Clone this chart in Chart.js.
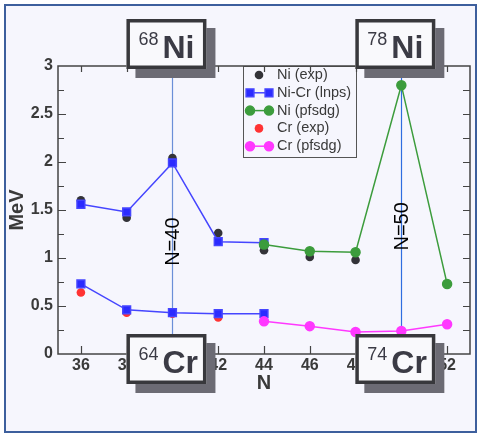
<!DOCTYPE html>
<html>
<head>
<meta charset="utf-8">
<script src="https://cdn.jsdelivr.net/npm/chart.js@4.4.1/dist/chart.umd.min.js"></script>
<style>
  html, body { margin: 0; padding: 0; background: #fff; }
  #wrap { width: 477px; height: 433px; }
</style>
</head>
<body>
<div id="wrap"><canvas id="chart" width="477" height="433"></canvas></div>
<script>
// tick labels on N axis
const nTicks = [36, 38, 40, 42, 44, 46, 48, 50, 52];

// experiment
const niExpN = [36, 38, 40, 42, 44, 46, 48];
const niExp = [1.60, 1.42, 2.04, 1.26, 1.08, 1.01, 0.98];
const crExpN = [36, 38, 40, 42];
const crExp = [0.64, 0.43, 0.42, 0.38];

// shell model (lnps)
const lnpsN = [36, 38, 40, 42, 44];
const niLnps = [1.56, 1.48, 1.99, 1.17, 1.16];
const crLnps = [0.73, 0.46, 0.43, 0.42, 0.42];

// pfsdg
const pfsdgN = [44, 46, 48, 50, 52];
const niPfsdg = [1.14, 1.07, 1.06, 2.80, 0.73];
const crPfsdg = [0.34, 0.29, 0.23, 0.24, 0.31];

// magic numbers + isotope boxes
const magicN = [40, 50];
const magicLabels = ['N=40', 'N=50'];
const niBoxes = [['68', 'Ni'], ['78', 'Ni']];
const crBoxes = [['64', 'Cr'], ['74', 'Cr']];

const FONT = '"Liberation Sans", Arial, sans-serif';
const TXT = '#3a3a3a';

const pts = (xs, ys) => xs.map((x, i) => ({ x: x, y: ys[i] }));

function isoBox(ctx, left, top, sup, sym) {
    const w = 80, h = 50;
    ctx.fillStyle = '#6c6b74';
    ctx.fillRect(left + 9, top + 9, w, h);
    ctx.fillStyle = '#f9f9fc';
    ctx.fillRect(left, top, w, h);
    ctx.lineWidth = 3.5;
    ctx.strokeStyle = '#38383c';
    ctx.strokeRect(left + 1.75, top + 1.75, w - 3.5, h - 3.5);
    ctx.fillStyle = '#3b3b45';
    ctx.textAlign = 'left';
    ctx.textBaseline = 'alphabetic';
    ctx.font = '18px ' + FONT;
    ctx.fillText(sup, left + 12, top + 25.5);
    const sw = ctx.measureText(sup).width;
    ctx.font = 'bold 32px ' + FONT;
    ctx.fillText(sym, left + 12 + sw + 4, top + 38.5);
}

const decor = {
    id: 'decor',
    beforeDraw(chart) {
        const ctx = chart.ctx;
        ctx.save();
        ctx.fillStyle = '#ffffff';
        ctx.fillRect(0, 0, chart.width, chart.height);
        ctx.fillStyle = '#f6f6fd';
        ctx.fillRect(5, 5, 471, 427);
        ctx.strokeStyle = '#3d5f9d';
        ctx.lineWidth = 2;
        ctx.strokeRect(5, 5, 471, 427);
        ctx.restore();
    },
    beforeDatasetsDraw(chart) {
        const ctx = chart.ctx, x = chart.scales.x, a = chart.chartArea;
        ctx.save();
        const cols = ['#6b8fd8', '#2f6de0'];
        magicN.forEach((n, i) => {
            const px = Math.round(x.getPixelForValue(n)) + 0.5;
            ctx.strokeStyle = cols[i];
            ctx.lineWidth = 1.2;
            ctx.beginPath();
            ctx.moveTo(px, a.top);
            ctx.lineTo(px, a.bottom);
            ctx.stroke();
        });
        ctx.restore();
    },
    afterDatasetsDraw(chart) {
        const ctx = chart.ctx, x = chart.scales.x, y = chart.scales.y;
        ctx.save();
        // N=40 / N=50 labels
        const labelAt = [1.17, 1.33];
        ctx.fillStyle = '#000';
        ctx.font = '20px ' + FONT;
        ctx.textAlign = 'center';
        ctx.textBaseline = 'middle';
        magicN.forEach((n, i) => {
            ctx.save();
            ctx.translate(x.getPixelForValue(n), y.getPixelForValue(labelAt[i]));
            ctx.rotate(-Math.PI / 2);
            ctx.fillText(magicLabels[i], 0, 1);
            ctx.restore();
        });

        // legend box
        const lx = 243, ly = chart.chartArea.top, lw = 113, lh = 91;
        ctx.fillStyle = '#f6f6fd';
        ctx.fillRect(lx, ly, lw, lh);
        ctx.strokeStyle = '#555';
        ctx.lineWidth = 1;
        ctx.strokeRect(lx + 0.5, ly + 0.5, lw, lh);
        const items = [[0, false], [4, true], [2, true], [1, false], [3, true]];
        items.forEach(([di, withLine], i) => {
            const ds = chart.data.datasets[di];
            const ry = 75 + i * 17.8;
            const opts = chart.getDatasetMeta(di).data[0].options;
            ctx.fillStyle = opts.backgroundColor;
            ctx.strokeStyle = opts.borderColor;
            ctx.lineWidth = opts.borderWidth;
            if (withLine) {
                ctx.lineWidth = 1.5;
                ctx.beginPath();
                ctx.moveTo(249, ry);
                ctx.lineTo(270, ry);
                ctx.stroke();
                Chart.helpers.drawPoint(ctx, opts, 250, ry);
                Chart.helpers.drawPoint(ctx, opts, 269, ry);
            } else {
                Chart.helpers.drawPoint(ctx, opts, 259, ry);
            }
            ctx.fillStyle = TXT;
            ctx.font = '14.5px ' + FONT;
            ctx.textAlign = 'left';
            ctx.textBaseline = 'middle';
            ctx.fillText(ds.label, 277, ry);
        });
        ctx.restore();
    },
    afterDraw(chart) {
        const ctx = chart.ctx, a = chart.chartArea, x = chart.scales.x, y = chart.scales.y;
        ctx.save();
        // frame of the plot
        ctx.strokeStyle = '#444';
        ctx.lineWidth = 1.5;
        ctx.strokeRect(a.left, a.top, a.right - a.left, a.bottom - a.top);
        // inward ticks
        ctx.lineWidth = 1.2;
        ctx.beginPath();
        nTicks.forEach(n => {
            const px = Math.round(x.getPixelForValue(n)) + 0.5;
            ctx.moveTo(px, a.bottom); ctx.lineTo(px, a.bottom - 8);
            ctx.moveTo(px, a.top); ctx.lineTo(px, a.top + 6);
        });
        for (let v = 0.25; v < 3; v += 0.25) {
            const py = Math.round(y.getPixelForValue(v)) + 0.5;
            const major = Math.abs(v * 2 - Math.round(v * 2)) < 1e-6;
            ctx.moveTo(a.left, py); ctx.lineTo(a.left + (major ? 8 : 6), py);
            ctx.moveTo(a.right, py); ctx.lineTo(a.right - 7, py);
        }
        ctx.stroke();
        // isotope boxes
        magicN.forEach((n, i) => {
            const px = x.getPixelForValue(n);
            isoBox(ctx, px - 46, 19, niBoxes[i][0], niBoxes[i][1]);
            isoBox(ctx, px - 46, 334, crBoxes[i][0], crBoxes[i][1]);
        });
        ctx.restore();
    }
};

const tickFont = { family: FONT, size: 16, weight: 'bold' };

new Chart(document.getElementById('chart'), {
    type: 'line',
    data: {
        datasets: [
            {
                label: 'Ni (exp)', data: pts(niExpN, niExp), showLine: false,
                pointStyle: 'circle', pointRadius: 4.3, borderWidth: 0,
                backgroundColor: '#333338', borderColor: '#333338', order: 2
            },
            {
                label: 'Cr (exp)', data: pts(crExpN, crExp), showLine: false,
                pointStyle: 'circle', pointRadius: 4.3, borderWidth: 0,
                backgroundColor: '#ff3333', borderColor: '#ff3333', order: 2
            },
            {
                label: 'Ni (pfsdg)', data: pts(pfsdgN, niPfsdg),
                pointStyle: 'circle', pointRadius: 4.5, borderWidth: 1.5,
                backgroundColor: '#3c9c3c', borderColor: '#3c9c3c', order: 0
            },
            {
                label: 'Cr (pfsdg)', data: pts(pfsdgN, crPfsdg),
                pointStyle: 'circle', pointRadius: 4.5, borderWidth: 1.5,
                backgroundColor: '#ff38ff', borderColor: '#ff38ff', order: 0
            },
            {
                label: 'Ni-Cr (lnps)', data: pts(lnpsN, niLnps),
                pointStyle: 'rect', pointRadius: 5.5, borderWidth: 1.5,
                backgroundColor: '#2b2bff', borderColor: '#4545ff', order: 1
            },
            {
                label: 'Ni-Cr (lnps)', data: pts(lnpsN, crLnps),
                pointStyle: 'rect', pointRadius: 5.5, borderWidth: 1.5,
                backgroundColor: '#2b2bff', borderColor: '#4545ff', order: 1
            }
        ]
    },
    options: {
        responsive: false,
        animation: false,
        devicePixelRatio: 1,
        layout: { padding: { left: 0, right: 7, top: 66, bottom: 0 } },
        plugins: { legend: { display: false }, tooltip: { enabled: false } },
        scales: {
            x: {
                type: 'linear', min: 35, max: 53,
                grid: { display: false, drawTicks: false }, border: { display: false },
                afterBuildTicks: s => { s.ticks = nTicks.map(v => ({ value: v })); },
                afterFit: s => { s.height = 79; },
                ticks: { color: TXT, font: tickFont, padding: 2, maxRotation: 0, autoSkip: false },
                title: {
                    display: true, text: 'N', color: TXT,
                    font: { family: FONT, size: 20, weight: 'bold' },
                    padding: { top: 0, bottom: 38 }
                }
            },
            y: {
                min: 0, max: 3,
                grid: { display: false, drawTicks: false }, border: { display: false },
                afterFit: s => { s.width = 58; },
                ticks: {
                    stepSize: 0.5, color: TXT, font: tickFont, padding: 5,
                    callback: v => String(v)
                },
                title: {
                    display: true, text: 'MeV', color: TXT,
                    font: { family: FONT, size: 20, weight: 'bold' },
                    padding: { top: 5, bottom: 0 }
                }
            }
        }
    },
    plugins: [decor]
});
</script>
</body>
</html>
